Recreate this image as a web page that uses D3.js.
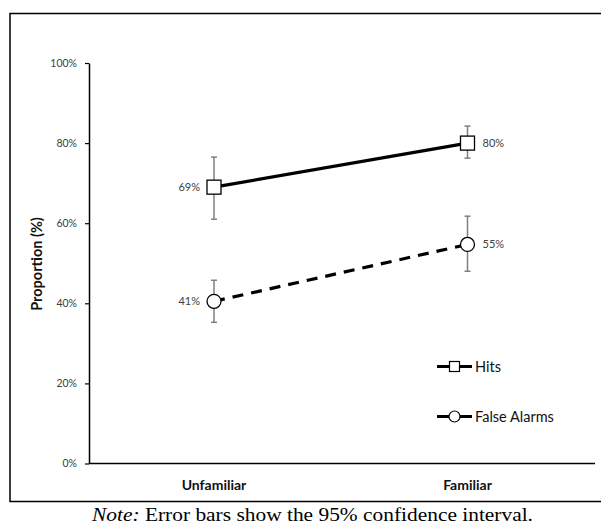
<!DOCTYPE html>
<html>
<head>
<meta charset="utf-8">
<script src="https://cdn.jsdelivr.net/npm/d3@7"></script>
<style>
  body { margin: 0; background: #fff; }
  svg { display: block; }
</style>
</head>
<body>
<svg id="chart" width="601" height="525"></svg>
<script>
const categories = ["Unfamiliar", "Familiar"];
const seriesNames = ["Hits", "False Alarms"];
const hitsValues = [0.69, 0.80];
const hitsLower = [0.61, 0.7625];
const hitsUpper = [0.765, 0.8425];
const faValues = [0.405, 0.547];
const faLower = [0.3525, 0.48];
const faUpper = [0.4575, 0.6175];
const yTicks = [0, 0.2, 0.4, 0.6, 0.8, 1.0];
const pointLabels = [["69%", "80%"], ["41%", "55%"]];

const svg = d3.select("#chart");
const font = "Lato, 'Open Sans', sans-serif";

// outer frame
svg.append("path")
  .attr("d", "M602,13.5 L10,13.5 L10,501.5 L602,501.5")
  .attr("fill", "none").attr("stroke", "#000").attr("stroke-width", 1.5);

const x = d3.scalePoint().domain(categories).range([214, 467.5]);
const y = d3.scaleLinear().domain([0, 1]).range([463.5, 63]);

// y axis
const yAxis = d3.axisLeft(y).tickValues(yTicks).tickSize(4).tickSizeOuter(0)
  .tickFormat(d3.format(".0%"));
const gy = svg.append("g").attr("transform", "translate(89,0)").call(yAxis);
gy.select(".domain").attr("stroke", "#000").attr("stroke-width", 1.5);
gy.selectAll(".tick line").attr("stroke", "#000").attr("stroke-width", 1.2);
gy.selectAll(".tick text").attr("x", -12).attr("fill", "#404040")
  .style("font-family", font).style("font-size", "10.5px");

// x axis line
svg.append("line").attr("x1", 89).attr("x2", 595).attr("y1", y(0)).attr("y2", y(0))
  .attr("stroke", "#000").attr("stroke-width", 1.5);

// x tick labels
svg.selectAll(".xlab").data(categories).enter().append("text")
  .attr("x", d => x(d)).attr("y", 490)
  .attr("text-anchor", "middle").attr("font-weight", "bold")
  .style("font-family", font).style("font-size", "14px").attr("fill", "#111")
  .text(d => d);

// y axis title
svg.append("text")
  .attr("transform", "translate(42,264) rotate(-90)")
  .attr("text-anchor", "middle").attr("font-weight", "bold")
  .style("font-family", font).style("font-size", "14.5px").attr("fill", "#111")
  .text("Proportion (%)");

const series = [
  { name: seriesNames[0], vals: hitsValues, lo: hitsLower, hi: hitsUpper, dash: null, shape: "square", labels: pointLabels[0] },
  { name: seriesNames[1], vals: faValues, lo: faLower, hi: faUpper, dash: "11,8", shape: "circle", labels: pointLabels[1] }
];

const line = d3.line().x((d, i) => x(categories[i])).y(d => y(d));

series.forEach(s => {
  // error bars
  categories.forEach((c, i) => {
    const g = svg.append("g").attr("stroke", "#7f7f7f").attr("stroke-width", 1.5);
    g.append("line").attr("x1", x(c)).attr("x2", x(c)).attr("y1", y(s.lo[i])).attr("y2", y(s.hi[i]));
    g.append("line").attr("x1", x(c) - 3).attr("x2", x(c) + 3).attr("y1", y(s.lo[i])).attr("y2", y(s.lo[i]));
    g.append("line").attr("x1", x(c) - 3).attr("x2", x(c) + 3).attr("y1", y(s.hi[i])).attr("y2", y(s.hi[i]));
  });
  svg.append("path").datum(s.vals).attr("d", line)
    .attr("fill", "none").attr("stroke", "#000").attr("stroke-width", 3.2)
    .attr("stroke-dasharray", s.dash);
});

series.forEach(s => {
  categories.forEach((c, i) => {
    if (s.shape === "square") {
      svg.append("rect").attr("x", x(c) - 7).attr("y", y(s.vals[i]) - 7)
        .attr("width", 14).attr("height", 14)
        .attr("fill", "#fff").attr("stroke", "#000").attr("stroke-width", 1.3);
    } else {
      svg.append("circle").attr("cx", x(c)).attr("cy", y(s.vals[i])).attr("r", 7)
        .attr("fill", "#fff").attr("stroke", "#000").attr("stroke-width", 1.3);
    }
    const left = i === 0;
    svg.append("text")
      .attr("x", left ? x(c) - 14 : x(c) + 15)
      .attr("y", y(s.vals[i]) + 4)
      .attr("text-anchor", left ? "end" : "start")
      .attr("fill", "#404040")
      .style("font-family", font).style("font-size", "11px")
      .text(s.labels[i]);
  });
});

// legend
const legY = [366.5, 416.5];
series.forEach((s, k) => {
  const ly = legY[k];
  svg.append("line").attr("x1", 437).attr("x2", 472).attr("y1", ly).attr("y2", ly)
    .attr("stroke", "#000").attr("stroke-width", 3);
  if (s.shape === "square") {
    svg.append("rect").attr("x", 449.5).attr("y", ly - 5).attr("width", 10).attr("height", 10)
      .attr("fill", "#fff").attr("stroke", "#000").attr("stroke-width", 1.2);
  } else {
    svg.append("circle").attr("cx", 454.5).attr("cy", ly).attr("r", 5.5)
      .attr("fill", "#fff").attr("stroke", "#000").attr("stroke-width", 1.2);
  }
  svg.append("text").attr("x", 475).attr("y", ly + 5)
    .attr("fill", "#111")
    .style("font-family", font).style("font-size", "14.5px")
    .text(s.name);
});

// note
const note = svg.append("text").attr("x", 92).attr("y", 521)
  .attr("textLength", 441).attr("lengthAdjust", "spacingAndGlyphs")
  .style("font-family", "'Liberation Serif', 'Times New Roman', serif").style("font-size", "18px")
  .attr("fill", "#000");
note.append("tspan").attr("font-style", "italic").text("Note:");
note.append("tspan").text(" Error bars show the 95% confidence interval.");
</script>
</body>
</html>
